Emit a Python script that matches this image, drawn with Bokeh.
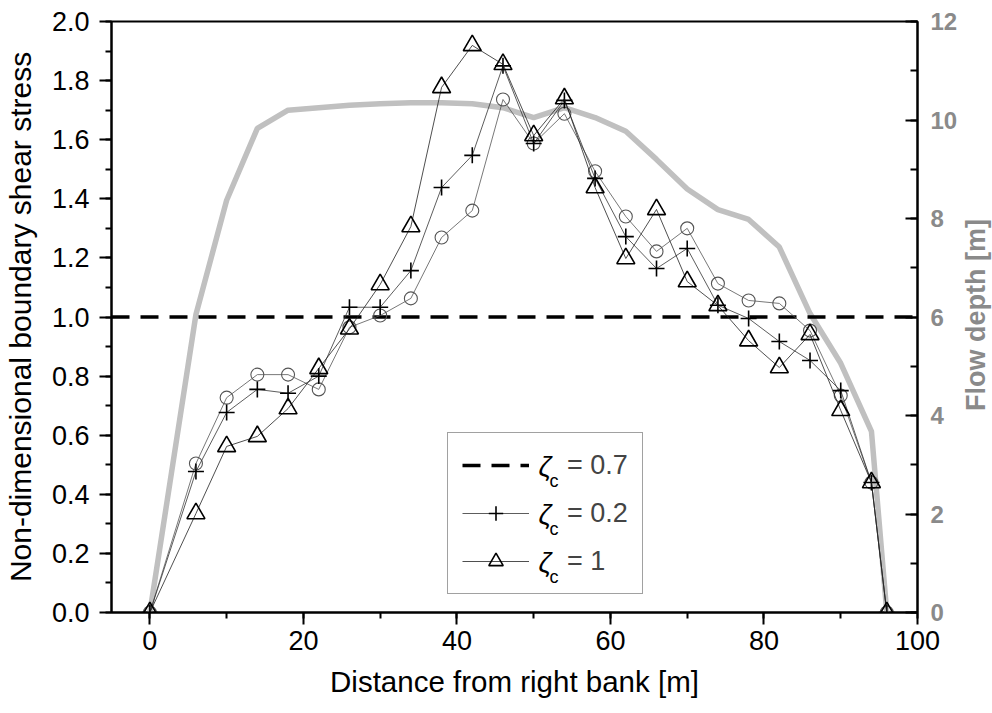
import math
from bokeh.plotting import figure
from bokeh.models import (Range1d, LinearAxis, SingleIntervalTicker, PrintfTickFormatter,
                          Legend, LegendItem, Label)
from bokeh.embed import file_html
from bokeh.resources import INLINE

# ---------------- data ----------------
distance = [0, 6, 10, 14, 18, 22, 26, 30, 34, 38, 42, 46, 50, 54, 58, 62, 66, 70, 74, 78, 82, 86, 90, 94, 96]
tau_circles = [0, 0.504, 0.727, 0.805, 0.805, 0.755, 0.965, 1.005, 1.063, 1.269, 1.360, 1.736, 1.587,
               1.688, 1.493, 1.340, 1.222, 1.300, 1.113, 1.056, 1.046, 0.954, 0.734, 0.44, 0]
tau_zeta_02 = [0, 0.477, 0.677, 0.755, 0.742, 0.800, 1.033, 1.033, 1.157, 1.438, 1.547, 1.850, 1.587,
               1.733, 1.469, 1.272, 1.164, 1.232, 1.040, 0.995, 0.917, 0.853, 0.751, 0.44, 0]
tau_zeta_1 = [0, 0.335, 0.562, 0.596, 0.690, 0.826, 0.960, 1.110, 1.306, 1.777, 1.919, 1.855, 1.614,
              1.739, 1.438, 1.198, 1.364, 1.120, 1.039, 0.920, 0.829, 0.941, 0.684, 0.44, 0]
flow_depth = [0, 6.05, 8.37, 9.83, 10.20, 10.25, 10.30, 10.33, 10.35, 10.35, 10.33, 10.25, 10.05,
              10.25, 10.05, 9.77, 9.20, 8.60, 8.18, 7.98, 7.42, 6.07, 5.06, 3.68, 0]
tau_critical = 1.0  # zeta_c = 0.7

legend_values = ["= 0.7", "= 0.2", "= 1"]
x_limits = (-5, 100)
y_limits = (0, 2.0)
depth_limits = (0, 12)

FONT = "Liberation Sans"
GRAY_TEXT = "#8a8a8a"

FRAME_H = 713 - 21 - 101

p = figure(width=992, height=713, output_backend="svg", toolbar_location=None,
           x_range=Range1d(*x_limits), y_range=Range1d(*y_limits),
           min_border_left=109, min_border_right=75, min_border_top=21, min_border_bottom=101,
           background_fill_color="white", border_fill_color="white")
p.extra_y_ranges = {"depth": Range1d(*depth_limits)}
p.xgrid.visible = False
p.ygrid.visible = False
p.outline_line_color = "black"
p.outline_line_width = 2

def style_axis(ax, color="black", bold=False, tick_in=False):
    ax.axis_line_width = 2
    ax.axis_line_color = "black"
    ax.major_tick_line_width = 2
    ax.minor_tick_line_width = 2
    ax.major_tick_line_color = "black"
    ax.minor_tick_line_color = "black"
    if tick_in:
        ax.major_tick_in, ax.major_tick_out = 12, 0
        ax.minor_tick_in, ax.minor_tick_out = 7, 0
    else:
        ax.major_tick_in, ax.major_tick_out = 0, 12
        ax.minor_tick_in, ax.minor_tick_out = 0, 6
    ax.major_label_text_font = FONT
    ax.major_label_text_color = color
    ax.major_label_text_font_style = "bold" if bold else "normal"
    ax.axis_label_text_font = FONT
    ax.axis_label_text_color = color
    ax.axis_label_text_font_style = "bold" if bold else "normal"

xa = p.xaxis[0]
xa.ticker = SingleIntervalTicker(interval=20, num_minor_ticks=2)
xa.axis_label = "Distance from right bank [m]"
style_axis(xa)
xa.major_label_text_font_size = "27px"
xa.axis_label_text_font_size = "29.5px"
xa.major_label_standoff = 6
xa.axis_label_standoff = 12

ya = p.yaxis[0]
ya.ticker = SingleIntervalTicker(interval=0.2, num_minor_ticks=2)
ya.formatter = PrintfTickFormatter(format="%.1f")
ya.axis_label = "Non-dimensional boundary shear stress"
style_axis(ya)
ya.major_label_text_font_size = "27px"
ya.axis_label_text_font_size = "30px"
ya.major_label_standoff = 10
ya.axis_label_standoff = 12

ra = LinearAxis(y_range_name="depth",
                ticker=SingleIntervalTicker(interval=2, num_minor_ticks=2))
style_axis(ra, color=GRAY_TEXT, bold=True, tick_in=True)
ra.major_label_text_font_size = "24px"
ra.major_label_standoff = 13
p.add_layout(ra, "right")

# right axis title (reads bottom-to-top), placed in the right side panel
p.add_layout(Label(x=15, y=FRAME_H / 2 + 2, x_units="screen", y_units="screen",
                   text="Flow depth [m]", angle=math.pi / 2, text_align="center",
                   text_baseline="middle", text_font=FONT, text_font_size="27px",
                   text_font_style="bold", text_color=GRAY_TEXT), "right")

# flow depth (grey, right axis)
p.line(distance, flow_depth, y_range_name="depth", line_color="#c0c0c0", line_width=5.5)

# critical threshold line
crit_r = p.line(list(x_limits), [tau_critical, tau_critical], line_color="black",
                line_width=3.5, line_dash="18 11")

# circle series (no legend)
p.line(distance, tau_circles, line_color="#555555", line_width=0.8)
p.scatter(distance, tau_circles, marker="circle", size=13, fill_color=None,
          line_color="#555555", line_width=1.1)

# zeta_c = 0.2
l02 = p.line(distance, tau_zeta_02, line_color="#333333", line_width=0.8)
s02 = p.scatter(distance, tau_zeta_02, marker="cross", size=16, line_color="black", line_width=1.6)

# zeta_c = 1
l1 = p.line(distance, tau_zeta_1, line_color="#222222", line_width=0.8)
s1 = p.scatter(distance, tau_zeta_1, marker="triangle", size=18, fill_color=None,
               line_color="black", line_width=1.6)

legend = Legend(items=[LegendItem(label=legend_values[0], renderers=[crit_r]),
                       LegendItem(label=legend_values[1], renderers=[l02, s02]),
                       LegendItem(label=legend_values[2], renderers=[l1, s1])],
                location=(336, 18), padding=14, spacing=12,
                glyph_width=67, glyph_height=36, label_height=36, label_standoff=38,
                label_text_font=FONT, label_text_font_size="27px", label_text_baseline="middle",
                border_line_color="#444444", border_line_width=1.2,
                background_fill_color="white", background_fill_alpha=0.0, margin=0)
p.add_layout(legend)

row_y = [146, 98, 50]
for yy in row_y:
    p.add_layout(Label(x=427, y=yy, x_units="screen", y_units="screen", text="ζ",
                       text_font=FONT, text_font_size="28px", text_font_style="italic",
                       text_baseline="middle", text_color="black"))
    p.add_layout(Label(x=438, y=yy - 14, x_units="screen", y_units="screen", text="c",
                       text_font=FONT, text_font_size="18px",
                       text_baseline="middle", text_color="black"))

open("out.html", "w").write(file_html(p, INLINE))
